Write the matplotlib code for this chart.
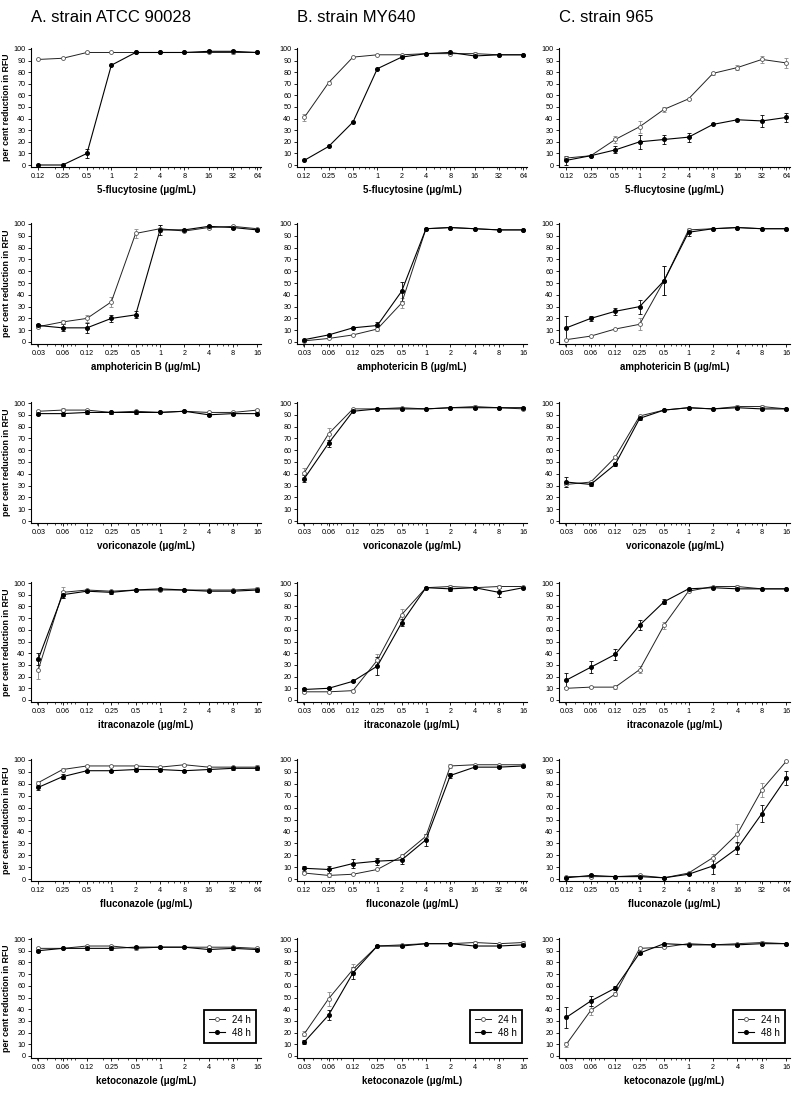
import matplotlib
matplotlib.use("Agg")
import matplotlib.pyplot as plt
import numpy as np
from matplotlib.ticker import FixedLocator, LogLocator, NullFormatter
from matplotlib.lines import Line2D

# concentrations (log2 series)
conc_high = [0.125, 0.25, 0.5, 1, 2, 4, 8, 16, 32, 64]
labels_high = ["0.12", "0.25", "0.5", "1", "2", "4", "8", "16", "32", "64"]
conc_low = [0.03125, 0.0625, 0.125, 0.25, 0.5, 1, 2, 4, 8, 16]
labels_low = ["0.03", "0.06", "0.12", "0.25", "0.5", "1", "2", "4", "8", "16"]

strains = ["A. strain ATCC 90028", "B. strain MY640", "C. strain 965"]
drugs = ["5-flucytosine", "amphotericin B", "voriconazole",
         "itraconazole", "fluconazole", "ketoconazole"]

# per cent reduction in RFU, one list per strain (A, B, C)
flucytosine_24 = [[91, 92, 97, 97, 97, 97, 97, 97, 97, 97],
                  [41, 71, 93, 95, 95, 96, 96, 96, 95, 95],
                  [6, 8, 22, 33, 48, 57, 79, 84, 91, 88]]
flucytosine_48 = [[0, 0, 10, 86, 97, 97, 97, 98, 98, 97],
                  [4, 16, 37, 83, 93, 96, 97, 94, 95, 95],
                  [4, 8, 13, 20, 22, 24, 35, 39, 38, 41]]
flucytosine_e24 = [[0, 0, 1, 0, 0, 0, 0, 0, 1, 0],
                   [3, 1, 0, 0, 0, 0, 0, 1, 0, 0],
                   [1, 1, 3, 5, 2, 1, 1, 2, 3, 4]]
flucytosine_e48 = [[0, 0, 4, 0, 0, 0, 0, 1, 1, 0],
                   [0, 0, 0, 0, 0, 0, 0, 1, 0, 0],
                   [4, 0, 3, 6, 4, 4, 0, 0, 5, 4]]

amphotericin_24 = [[13, 17, 20, 34, 92, 96, 94, 97, 98, 96],
                   [1, 3, 6, 11, 33, 96, 97, 96, 95, 95],
                   [2, 5, 11, 15, 52, 95, 96, 97, 96, 96]]
amphotericin_48 = [[14, 12, 12, 20, 23, 95, 95, 98, 97, 95],
                   [2, 6, 12, 14, 43, 96, 97, 96, 95, 95],
                   [12, 20, 26, 30, 52, 93, 96, 97, 96, 96]]
amphotericin_e24 = [[1, 2, 3, 4, 4, 3, 1, 1, 1, 1],
                    [0, 0, 0, 2, 4, 0, 0, 0, 0, 0],
                    [0, 0, 0, 5, 12, 2, 0, 0, 0, 0]]
amphotericin_e48 = [[1, 3, 4, 3, 3, 4, 1, 1, 1, 1],
                    [0, 0, 0, 3, 8, 0, 0, 0, 0, 0],
                    [10, 2, 3, 6, 12, 3, 0, 0, 0, 0]]

voriconazole_24 = [[93, 94, 94, 92, 93, 92, 93, 92, 92, 94],
                   [41, 74, 95, 95, 96, 95, 96, 97, 96, 95],
                   [31, 33, 54, 89, 94, 96, 95, 97, 97, 95]]
voriconazole_48 = [[91, 91, 92, 92, 92, 92, 93, 90, 91, 91],
                   [36, 66, 93, 95, 95, 95, 96, 96, 96, 96],
                   [33, 31, 48, 87, 94, 96, 95, 96, 95, 95]]
voriconazole_e24 = [[1, 2, 1, 1, 1, 0, 1, 1, 1, 1],
                    [4, 5, 1, 1, 1, 0, 0, 1, 1, 1],
                    [2, 1, 1, 1, 0, 0, 0, 1, 1, 0]]
voriconazole_e48 = [[1, 2, 1, 1, 1, 0, 1, 1, 1, 1],
                    [3, 3, 1, 1, 1, 0, 0, 1, 1, 1],
                    [4, 1, 1, 1, 0, 0, 0, 1, 1, 0]]

itraconazole_24 = [[26, 92, 94, 93, 94, 94, 94, 94, 94, 95],
                   [7, 7, 8, 34, 73, 96, 97, 96, 97, 97],
                   [10, 11, 11, 26, 64, 93, 97, 97, 95, 95]]
itraconazole_48 = [[35, 90, 93, 92, 94, 95, 94, 93, 93, 94],
                   [9, 10, 16, 29, 66, 96, 95, 96, 92, 96],
                   [17, 28, 39, 64, 84, 95, 96, 95, 95, 95]]
itraconazole_e24 = [[8, 5, 1, 1, 1, 1, 1, 1, 1, 2],
                    [1, 1, 1, 5, 5, 0, 1, 0, 1, 0],
                    [1, 1, 2, 3, 3, 0, 0, 1, 0, 0]]
itraconazole_e48 = [[5, 3, 1, 1, 1, 1, 1, 1, 1, 2],
                    [1, 1, 1, 8, 3, 0, 2, 0, 4, 0],
                    [6, 5, 5, 4, 2, 0, 0, 1, 0, 0]]

fluconazole_24 = [[81, 92, 95, 95, 95, 94, 96, 94, 94, 94],
                  [5, 3, 4, 8, 19, 36, 95, 96, 96, 96],
                  [2, 2, 2, 3, 1, 5, 18, 38, 75, 99]]
fluconazole_48 = [[77, 86, 91, 91, 92, 92, 91, 92, 93, 93],
                  [9, 8, 13, 15, 16, 33, 87, 94, 94, 95],
                  [1, 3, 2, 2, 1, 4, 11, 26, 55, 85]]
fluconazole_e24 = [[1, 1, 1, 1, 1, 1, 1, 1, 1, 2],
                   [1, 1, 0, 0, 2, 2, 2, 1, 1, 1],
                   [0, 1.5, 0, 1, 0, 0, 3, 8, 6, 0]]
fluconazole_e48 = [[2, 2, 1, 1, 1, 1, 1, 1, 1, 1],
                   [2, 3, 4, 3, 3, 5, 2, 1, 1, 1],
                   [0, 1, 0, 1, 1, 1, 7, 5, 7, 6]]

ketoconazole_24 = [[92, 92, 94, 94, 92, 93, 93, 93, 93, 92],
                   [19, 49, 74, 94, 95, 96, 96, 97, 96, 97],
                   [10, 39, 53, 92, 93, 96, 95, 96, 97, 96]]
ketoconazole_48 = [[90, 92, 92, 92, 93, 93, 93, 91, 92, 91],
                   [12, 35, 71, 94, 94, 96, 96, 94, 94, 95],
                   [33, 47, 58, 88, 96, 95, 95, 95, 96, 96]]
ketoconazole_e24 = [[1, 0, 1, 1, 1, 1, 1, 1, 1, 1],
                    [2, 6, 5, 1, 1, 0, 0, 1, 1, 1],
                    [2, 4, 2, 1, 1, 0, 0, 1, 1, 0]]
ketoconazole_e48 = [[1, 0, 1, 1, 1, 1, 1, 1, 1, 1],
                    [2, 4, 5, 1, 1, 0, 0, 1, 1, 1],
                    [9, 4, 2, 1, 1, 0, 0, 1, 1, 0]]

rows = [
    (conc_high, labels_high, flucytosine_24, flucytosine_48, flucytosine_e24, flucytosine_e48),
    (conc_low, labels_low, amphotericin_24, amphotericin_48, amphotericin_e24, amphotericin_e48),
    (conc_low, labels_low, voriconazole_24, voriconazole_48, voriconazole_e24, voriconazole_e48),
    (conc_low, labels_low, itraconazole_24, itraconazole_48, itraconazole_e24, itraconazole_e48),
    (conc_high, labels_high, fluconazole_24, fluconazole_48, fluconazole_e24, fluconazole_e48),
    (conc_low, labels_low, ketoconazole_24, ketoconazole_48, ketoconazole_e24, ketoconazole_e48),
]

W, H = 800, 1094
col_left = [31, 297, 559]
col_right = [261, 527, 790]
row_y0 = [165, 342, 521, 700, 879, 1056]
row_y100 = [49, 224, 403, 583, 760, 939]

font = "Liberation Sans"

fig = plt.figure(figsize=(W / 100, H / 100), dpi=100)

for c, name in enumerate(strains):
    fig.text(col_left[c] / W, 1 - 18 / H, name, fontsize=12,
             family=font, ha="left", va="center")

for r, (conc, labs, d24, d48, e24, e48) in enumerate(rows):
    k = (row_y0[r] - row_y100[r]) / 100
    bot = row_y0[r] + 2 * k
    top = row_y100[r] - 1 * k
    for c in range(3):
        ax = fig.add_axes([col_left[c] / W, 1 - bot / H,
                           (col_right[c] - col_left[c]) / W, (bot - top) / H])
        ax.errorbar(conc, d24[c], yerr=e24[c], fmt="none", ecolor="#888888",
                    elinewidth=0.6, capsize=1.5, capthick=0.6, zorder=2)
        ax.errorbar(conc, d48[c], yerr=e48[c], fmt="none", ecolor="black",
                    elinewidth=0.6, capsize=1.5, capthick=0.6, zorder=2)
        ax.plot(conc, d24[c], "-o", color="#222222", lw=0.7, ms=2.8,
                mfc="white", mec="#555555", mew=0.6, zorder=3)
        ax.plot(conc, d48[c], "-o", color="black", lw=0.8, ms=2.6,
                mfc="black", mec="black", zorder=4)
        ax.set_xscale("log")
        ax.set_xlim(conc[0] * 2 ** -0.3, conc[-1] * 2 ** 0.15)
        ax.set_ylim(-2, 101)
        ax.xaxis.set_major_locator(FixedLocator(conc))
        ax.set_xticklabels(labs)
        ax.xaxis.set_minor_locator(LogLocator(base=10, subs=np.arange(2, 10)))
        ax.xaxis.set_minor_formatter(NullFormatter())
        ax.set_yticks(np.arange(0, 101, 10))
        ax.spines["top"].set_visible(False)
        ax.spines["right"].set_visible(False)
        ax.spines["left"].set_linewidth(0.8)
        ax.spines["bottom"].set_linewidth(0.8)
        ax.tick_params(axis="both", which="major", length=2.5, width=0.6,
                       labelsize=5.2, pad=1.5)
        ax.tick_params(axis="x", which="minor", length=1.5, width=0.5)
        for t in ax.get_xticklabels() + ax.get_yticklabels():
            t.set_family(font)
        ax.set_xlabel(drugs[r] + " (\u03bcg/mL)", fontsize=7,
                      fontweight="bold", family=font, labelpad=4)
        if c == 0:
            ax.set_ylabel("per cent reduction in RFU", fontsize=6.3,
                          fontweight="bold", family=font, labelpad=2)
        if r == len(rows) - 1:
            h24 = Line2D([], [], color="#222222", lw=0.7, marker="o", ms=2.8,
                         mfc="white", mec="#555555", mew=0.6)
            h48 = Line2D([], [], color="black", lw=0.8, marker="o", ms=2.6,
                         mfc="black", mec="black")
            leg = ax.legend([h24, h48], ["24 h", "48 h"], loc="lower right",
                            bbox_to_anchor=(1.0, 0.09),
                            fancybox=False, edgecolor="black", framealpha=1,
                            handlelength=1.6, borderpad=0.5, labelspacing=0.3,
                            prop={"family": font, "size": 7})
            leg.get_frame().set_linewidth(1.3)

fig.savefig("out.png", dpi=100)
